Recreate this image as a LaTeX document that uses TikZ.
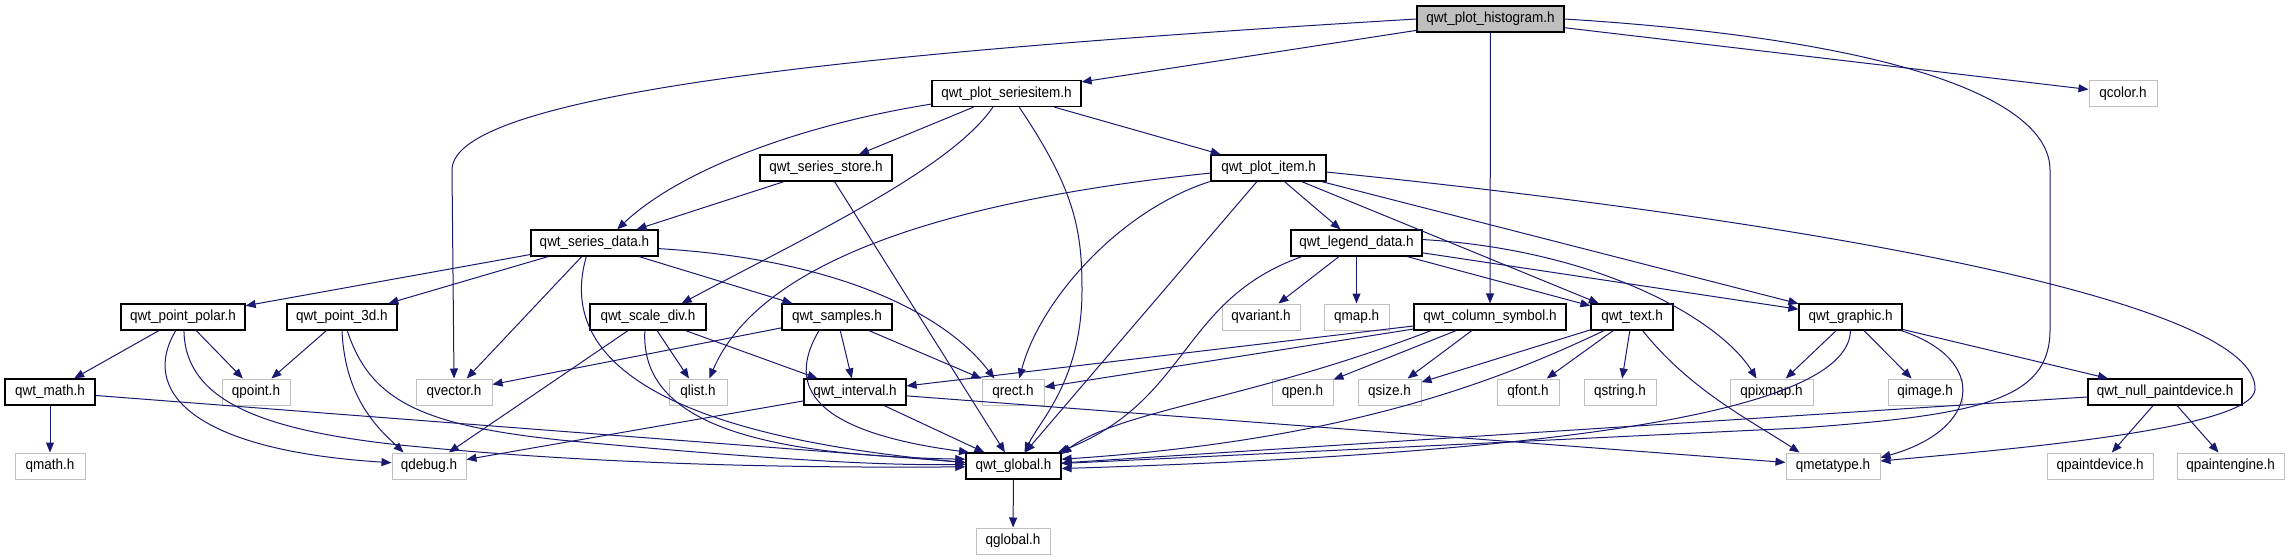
\documentclass[tikz,border=0pt]{standalone}
\usepackage{fontspec}
\setmainfont[FakeStretch=0.92]{Liberation Sans}
\usetikzlibrary{arrows.meta}

\definecolor{edgeblue}{rgb}{0.098,0.098,0.439}
\definecolor{qtgray}{rgb}{0.75,0.75,0.75}

\tikzset{
  hfile/.style={draw=black,line width=0.9pt,fill=white,inner sep=0pt,
    minimum height=19.5pt,minimum width=#1*0.75pt,
    font=\fontsize{11}{13}\selectfont},
  qfile/.style={hfile=#1,draw=qtgray,line width=0.75pt},
  mainfile/.style={hfile=#1,fill=qtgray},
  inc/.style={draw=edgeblue,line width=0.75pt,-{Triangle[length=7.5pt,width=6pt]}}
}

\begin{document}
\begin{tikzpicture}[x=0.75pt,y=-0.75pt]
\useasboundingbox (0,0) rectangle (2289,560);

% Drawing boxes, row by row
\node[mainfile=147] (hist) at (1490.5,19) {qwt\_plot\_histogram.h};
\node[hfile=149] (seriesitem) at (1006.5,93.5) {qwt\_plot\_seriesitem.h};
\node[qfile=68] (qcolor) at (2123,93.5) {qcolor.h};
\node[hfile=132] (store) at (826,168) {qwt\_series\_store.h};
\node[hfile=115] (plotitem) at (1268.5,168) {qwt\_plot\_item.h};
\node[hfile=127] (seriesdata) at (594.5,243) {qwt\_series\_data.h};
\node[hfile=131] (legenddata) at (1356.5,243) {qwt\_legend\_data.h};

\node[hfile=124] (pointpolar) at (183,317) {qwt\_point\_polar.h};
\node[hfile=110] (point3d) at (342,317) {qwt\_point\_3d.h};
\node[hfile=116] (scalediv) at (648,317) {qwt\_scale\_div.h};
\node[hfile=110] (samples) at (837,317) {qwt\_samples.h};
\node[qfile=78] (qvariant) at (1261,317) {qvariant.h};
\node[qfile=65] (qmap) at (1356.5,317) {qmap.h};
\node[hfile=152] (columnsymbol) at (1490,317) {qwt\_column\_symbol.h};
\node[hfile=82] (text) at (1632,317) {qwt\_text.h};
\node[hfile=103] (graphic) at (1850.5,317) {qwt\_graphic.h};

\node[hfile=90] (math) at (50,392) {qwt\_math.h};
\node[qfile=68] (qpoint) at (256,392) {qpoint.h};
\node[qfile=76] (qvector) at (454,392) {qvector.h};
\node[qfile=58] (qlist) at (698,392) {qlist.h};
\node[hfile=102] (interval) at (855,392) {qwt\_interval.h};
\node[qfile=62] (qrect) at (1013,392) {qrect.h};
\node[qfile=61] (qpen) at (1302.5,392) {qpen.h};
\node[qfile=63] (qsize) at (1389.5,392) {qsize.h};
\node[qfile=62] (qfont) at (1528,392) {qfont.h};
\node[qfile=72] (qstring) at (1620,392) {qstring.h};
\node[qfile=83] (qpixmap) at (1771.5,392) {qpixmap.h};
\node[qfile=74] (qimage) at (1925,392) {qimage.h};
\node[hfile=154] (nullpaint) at (2165,392) {qwt\_null\_paintdevice.h};

\node[qfile=70] (qmath) at (50,466) {qmath.h};
\node[qfile=74] (qdebug) at (429,466) {qdebug.h};
\node[hfile=95] (global) at (1013.5,466) {qwt\_global.h};
\node[qfile=94] (qmetatype) at (1833,466) {qmetatype.h};
\node[qfile=106] (qpaintdevice) at (2100,466) {qpaintdevice.h};
\node[qfile=107] (qpaintengine) at (2230.5,466) {qpaintengine.h};

\node[qfile=74] (qglobal) at (1013,541) {qglobal.h};

% Drawing arrows from qwt_plot_histogram.h
\draw[inc] (hist) -- (seriesitem);
\draw[inc] (hist) -- (qcolor);
\draw[inc] (hist) -- (columnsymbol);
\draw[inc] (hist.west) .. controls (900,50) and (452,90) .. (452,170) -- (qvector.north);
\draw[inc] (hist.east) .. controls (1900,40) and (2050,100) .. (2050,170) -- (2050,330)
  .. controls (2050,400) and (1980,415) .. (1800,428) -- (global.3);

% Drawing arrows from qwt_plot_seriesitem.h
\draw[inc] (seriesitem) -- (store);
\draw[inc] (seriesitem) -- (plotitem);
\draw[inc] (seriesitem.188) .. controls (800,125) and (680,170) .. (seriesdata.31);
\draw[inc] (seriesitem.225) .. controls (950,170) and (800,240) .. (scalediv.22);
\draw[inc] (seriesitem.313) .. controls (1075,190) and (1082,230) .. (1082,290)
  .. controls (1082,380) and (1040,420) .. (global.51);

% Drawing arrows from qwt_series_store.h
\draw[inc] (store) -- (seriesdata);
\draw[inc] (store) -- (global);

% Drawing arrows from qwt_plot_item.h
\draw[inc] (plotitem) -- (legenddata);
\draw[inc] (plotitem) -- (text);
\draw[inc] (plotitem) -- (graphic);
\draw[inc] (plotitem) -- (global);
\draw[inc] (plotitem.185) .. controls (950,200) and (760,260) .. (qlist.50);
\draw[inc] (plotitem.193) .. controls (1120,210) and (1040,300) .. (qrect.65);
\draw[inc] (plotitem.356) .. controls (1800,220) and (2260,300) .. (2255,390)
  .. controls (2250,430) and (2000,450) .. (qmetatype.6);

% Drawing arrows from qwt_legend_data.h
\draw[inc] (legenddata) -- (qvariant);
\draw[inc] (legenddata) -- (qmap);
\draw[inc] (legenddata) -- (text);
\draw[inc] (legenddata) -- (graphic);
\draw[inc] (legenddata.3) .. controls (1600,250) and (1720,320) .. (qpixmap.138);
\draw[inc] (legenddata.194) .. controls (1180,300) and (1190,400) .. (global.17);

% Drawing arrows from qwt_series_data.h
\draw[inc] (seriesdata) -- (pointpolar);
\draw[inc] (seriesdata) -- (point3d);
\draw[inc] (seriesdata) -- (qvector);
\draw[inc] (seriesdata) -- (samples);
\draw[inc] (seriesdata.239) .. controls (565,330) and (600,430) .. (global.176);
\draw[inc] (seriesdata.355) .. controls (850,260) and (950,320) .. (qrect.144);

% Drawing arrows from the third row
\draw[inc] (pointpolar) -- (math);
\draw[inc] (pointpolar) -- (qpoint);
\draw[inc] (pointpolar.242) .. controls (140,390) and (190,450) .. (qdebug.175);
\draw[inc] (pointpolar.274) .. controls (185,400) and (260,430) .. (400,445)
  .. controls (600,465) and (800,468) .. (global.181);
\draw[inc] (point3d) -- (qpoint);
\draw[inc] (point3d.south) .. controls (345,400) and (380,430) .. (qdebug.152);
\draw[inc] (point3d.291) .. controls (370,400) and (420,425) .. (560,440)
  .. controls (750,458) and (880,466) .. (global.178);
\draw[inc] (scalediv) -- (qlist);
\draw[inc] (scalediv) -- (interval);
\draw[inc] (scalediv) -- (qdebug);
\draw[inc] (scalediv.257) .. controls (640,420) and (750,455) .. (global.172);
\draw[inc] (samples) -- (qvector);
\draw[inc] (samples) -- (interval);
\draw[inc] (samples) -- (qrect);
\draw[inc] (samples.217) .. controls (790,380) and (800,430) .. (global.163);
\draw[inc] (columnsymbol) -- (interval);
\draw[inc] (columnsymbol) -- (qrect);
\draw[inc] (columnsymbol) -- (qpen);
\draw[inc] (columnsymbol) -- (qsize);
\draw[inc] (columnsymbol.193) .. controls (1250,400) and (1120,410) .. (global.14);
\draw[inc] (text) -- (qsize);
\draw[inc] (text) -- (qfont);
\draw[inc] (text) -- (qstring);
\draw[inc] (text.308) .. controls (1690,390) and (1750,420) .. (qmetatype.158);
\draw[inc] (text.206) .. controls (1500,380) and (1350,440) .. (global.8);
\draw[inc] (graphic) -- (qpixmap);
\draw[inc] (graphic) -- (qimage);
\draw[inc] (graphic) -- (nullpaint);
\draw[inc] (graphic.345) .. controls (1990,360) and (1980,430) .. (qmetatype.10);
\draw[inc] (graphic.south) .. controls (1848,420) and (1500,455) .. (global.357);

% Drawing arrows from the fourth row
\draw[inc] (math) -- (qmath);
\draw[inc] (math) -- (global);
\draw[inc] (interval) -- (global);
\draw[inc] (interval) -- (qdebug);
\draw[inc] (interval) -- (qmetatype);
\draw[inc] (nullpaint) -- (global);
\draw[inc] (nullpaint) -- (qpaintdevice);
\draw[inc] (nullpaint) -- (qpaintengine);

% Drawing arrow from qwt_global.h
\draw[inc] (global) -- (qglobal);
\end{tikzpicture}
\end{document}
